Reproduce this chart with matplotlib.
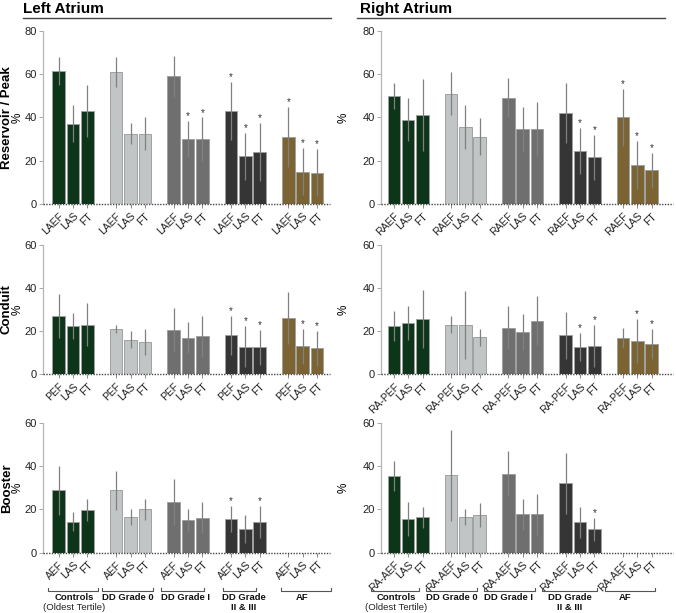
import numpy as np
import matplotlib
matplotlib.use("Agg")
import matplotlib.pyplot as plt
import matplotlib.transforms as mtransforms
from matplotlib.lines import Line2D

plt.rcParams['font.family'] = ['Liberation Sans', 'DejaVu Sans']

nan = np.nan
groups = ['Controls', 'DD Grade 0', 'DD Grade I', 'DD Grade\nII & III', 'AF']
group_colors = ['#0c3519', '#c2c5c5', '#6f6f6f', '#353535', '#7c6332']

# ---- Left atrium ----
la_res_labels = ['LAEF', 'LAS', 'FT']
la_res_mean = [61.5, 37, 43, 61, 32.5, 32.5, 59, 30, 30, 43, 22, 24, 31, 15, 14.5]
la_res_sd = [6.5, 8.5, 12, 7, 5, 7.5, 9.5, 8.5, 10, 13.5, 11, 13.5, 14, 11, 11]
la_res_sig = [0, 0, 0, 0, 0, 0, 0, 1, 1, 1, 1, 1, 1, 1, 1]

la_con_labels = ['PEF', 'LAS', 'FT']
la_con_mean = [27, 22.3, 23, 21, 16, 15, 20.5, 17, 17.7, 18, 12.8, 12.5, 26, 13, 12]
la_con_sd = [10, 6, 10, 2, 4, 6, 10, 7, 9.5, 9, 9.5, 8, 12, 8, 8]
la_con_sig = [0, 0, 0, 0, 0, 0, 0, 0, 0, 1, 1, 1, 0, 1, 1]

la_boo_labels = ['AEF', 'LAS', 'FT']
la_boo_mean = [28.8, 14.3, 19.7, 28.8, 16.3, 20, 23.5, 15, 16.2, 15.4, 11, 14.2, nan, nan, nan]
la_boo_sd = [11.2, 4.3, 5, 9, 3.7, 4.8, 10.5, 5, 7, 6, 6.3, 7.5, nan, nan, nan]
la_boo_sig = [0, 0, 0, 0, 0, 0, 0, 0, 0, 1, 0, 1, 0, 0, 0]

# ---- Right atrium ----
ra_res_labels = ['RAEF', 'LAS', 'FT']
ra_res_mean = [50, 39, 41, 51, 35.5, 31, 49, 34.5, 34.5, 42, 24.5, 21.5, 40, 18, 15.5]
ra_res_sd = [6, 10, 16.5, 10, 10, 8.5, 9, 10.5, 12.5, 14, 10.5, 10.5, 13, 11, 8]
ra_res_sig = [0, 0, 0, 0, 0, 0, 0, 0, 0, 0, 1, 1, 1, 1, 1]

ra_con_labels = ['RA-PEF', 'LAS', 'FT']
ra_con_mean = [22.2, 23.7, 25.8, 23, 22.8, 17.2, 21.5, 19.4, 24.8, 18, 12.6, 13.2, 16.8, 15.5, 14]
ra_con_sd = [7, 7.7, 13.4, 3.8, 15.7, 4, 10, 8.3, 11.4, 10.8, 6.6, 9.6, 4.7, 10.3, 7]
ra_con_sig = [0, 0, 0, 0, 0, 0, 0, 0, 0, 0, 1, 1, 0, 1, 1]

ra_boo_labels = ['RA-AEF', 'LAS', 'FT']
ra_boo_mean = [35.5, 15.7, 16.3, 35.8, 16.3, 17.4, 36.5, 17.8, 17.7, 32, 14, 10.8, nan, nan, nan]
ra_boo_sd = [7, 7.8, 5, 21, 3.7, 5.7, 10.5, 7.2, 9.4, 14, 7.2, 5.4, nan, nan, nan]
ra_boo_sig = [0, 0, 0, 0, 0, 0, 0, 0, 0, 0, 0, 1, 0, 0, 0]

W, H = 676, 613
fig = plt.figure(figsize=(W / 100, H / 100), dpi=100)

def fx(px):
    return px / W

def fy(py):
    return 1 - py / H

rows = [(30.7, 204.0, 80), (244.7, 374.3, 60), (422.7, 552.7, 60)]
cols = [(43, 330, (-1.1, 18.9)), (381, 673, (-0.9, 19.5))]
ylabel_px = [24, 350]

panels = [
    [(la_res_labels, la_res_mean, la_res_sd, la_res_sig),
     (ra_res_labels, ra_res_mean, ra_res_sd, ra_res_sig)],
    [(la_con_labels, la_con_mean, la_con_sd, la_con_sig),
     (ra_con_labels, ra_con_mean, ra_con_sd, ra_con_sig)],
    [(la_boo_labels, la_boo_mean, la_boo_sd, la_boo_sig),
     (ra_boo_labels, ra_boo_mean, ra_boo_sd, ra_boo_sig)],
]
row_names = ['Reservoir / Peak', 'Conduit', 'Booster']

xpos = np.array([g * 4 + b for g in range(5) for b in range(3)], dtype=float)
bar_colors = [group_colors[g] for g in range(5) for b in range(3)]

axes = {}
for r, (top, bot, ymax) in enumerate(rows):
    for c, (left, right, xl) in enumerate(cols):
        ax = fig.add_axes([fx(left), fy(bot), fx(right - left), (bot - top) / H])
        axes[(r, c)] = ax
        labels, mean, sd, sig = panels[r][c]
        mean = np.array(mean, dtype=float)
        sd = np.array(sd, dtype=float)
        ax.bar(xpos, np.nan_to_num(mean), width=0.88, color=bar_colors,
               edgecolor='#a0a0a0', linewidth=0.7, zorder=2)
        ok = ~np.isnan(mean)
        ax.errorbar(xpos[ok], mean[ok], yerr=sd[ok], fmt='none',
                    ecolor='#808080', elinewidth=0.9, capsize=0, zorder=3)
        for x, m, s, flag in zip(xpos, mean, sd, sig):
            if flag and not np.isnan(m):
                ax.text(x, m + s + 2.2, '*', ha='center', va='center',
                        fontsize=7, color='#333333', zorder=4)
        ax.axhline(0, color='#444444', linestyle=(0, (1, 1)), linewidth=1.0,
                   zorder=5, clip_on=False)
        ax.set_xlim(*xl)
        ax.set_ylim(0, ymax)
        ax.set_yticks(np.arange(0, ymax + 1, 20))
        ax.set_xticks(xpos)
        ax.set_xticklabels(list(labels) * 5, rotation=45, ha='right', va='top',
                           rotation_mode='anchor', fontsize=7.5, color='#222222')
        ax.tick_params(axis='x', length=3, width=0.6, color='#777777', pad=2)
        ax.tick_params(axis='y', length=3, width=0.6, color='#999999',
                       labelsize=8, labelcolor='#222222', pad=1.5)
        for sp in ['top', 'right', 'bottom']:
            ax.spines[sp].set_visible(False)
        ax.spines['left'].set_color('#b5b5b5')
        ax.spines['left'].set_linewidth(0.9)
        ax.set_ylabel('%', fontsize=8.5)
        ax.yaxis.set_label_coords((ylabel_px[c] - left) / (right - left), 0.5)

# Row labels
for r, (top, bot, ymax) in enumerate(rows):
    fig.text(fx(7), fy((top + bot) / 2), row_names[r], rotation=90,
             ha='center', va='center', fontsize=9.5, fontweight='bold')

# Titles with underlines
fig.text(fx(23), fy(13), 'Left Atrium', fontsize=11, fontweight='bold',
         ha='left', va='baseline')
fig.text(fx(360), fy(13), 'Right Atrium', fontsize=11, fontweight='bold',
         ha='left', va='baseline')
fig.add_artist(Line2D([fx(23), fx(331)], [fy(17.7), fy(17.7)], color='#444444', lw=1.0))
fig.add_artist(Line2D([fx(357), fx(665)], [fy(17.7), fy(17.7)], color='#444444', lw=1.0))

# Group brackets and names under bottom row
bracket_specs = {
    0: dict(centers=[1.0, 4.8, 8.6, 12.6, 17.25], halves=[1.75, 1.8, 1.5, 1.15, 1.75],
            text=[1.1, 4.8, 8.8, 12.9, 16.95]),
    1: dict(centers=[0.08, 4.02, 8.08, 12.26, 16.5], halves=[1.7, 1.77, 1.78, 1.9, 1.77],
            text=[0.17, 4.02, 8.03, 12.27, 16.13]),
}
for c in range(2):
    ax = axes[(2, c)]
    tr = mtransforms.blended_transform_factory(ax.transData, fig.transFigure)
    spec = bracket_specs[c]
    yb = fy(590.5)
    ytick = fy(587.5)
    for g in range(5):
        cx, hw = spec['centers'][g], spec['halves'][g]
        ax.plot([cx - hw, cx - hw, cx + hw, cx + hw], [ytick, yb, yb, ytick],
                transform=tr, color='#555555', lw=0.8, clip_on=False)
        name = groups[g]
        tx = spec['text'][g]
        ax.text(tx, fy(593.5), name, transform=tr, ha='center', va='top',
                fontsize=6.8, fontweight='bold', color='#111111', linespacing=1.0)
        if g == 0:
            ax.text(tx, fy(603), '(Oldest Tertile)', transform=tr, ha='center',
                    va='top', fontsize=6.8, color='#222222')

fig.savefig('out.png', dpi=100)
